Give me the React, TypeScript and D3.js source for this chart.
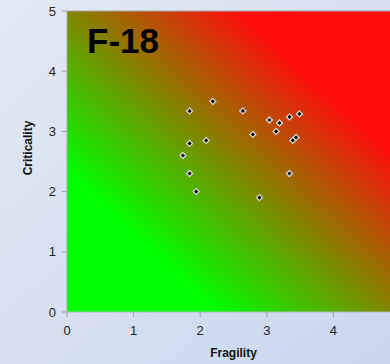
import React from 'react'
import { scaleLinear, symbol, symbolSquare } from 'd3'

const fragility = [2.19, 1.84, 2.64, 3.04, 3.19, 3.34, 3.49, 2.79, 3.14, 2.09, 1.84, 1.74, 3.39, 3.44, 1.84, 3.34, 1.94, 2.89]
const criticality = [3.5, 3.34, 3.34, 3.19, 3.14, 3.24, 3.29, 2.95, 3.0, 2.85, 2.8, 2.6, 2.85, 2.9, 2.3, 2.3, 2.0, 1.9]
const xTicks = [0, 1, 2, 3, 4]
const yTicks = [0, 1, 2, 3, 4, 5]

const W = 390
const H = 364

const App = () => {
  const x = scaleLinear().domain([0, 5]).range([67, 400])
  const y = scaleLinear().domain([0, 5]).range([312, 11])

  const left = x(0), right = x(5), top = y(5), bottom = y(0)
  const cx = (left + 390) / 2
  const cy = (top + bottom) / 2
  // gradient runs across the anti-diagonal, green bottom-left to red top-right
  const nx = 0.682, ny = -0.732, half = 118

  const marker = symbol().type(symbolSquare).size(18)()
  const font = 'Liberation Sans, Arial, sans-serif'

  return (
    <svg width={W} height={H} style={{ position: 'absolute', left: 0, top: 0 }}>
      <defs>
        <linearGradient id="bg" x1="0" y1="0" x2="1" y2="1">
          <stop offset="0" stopColor="#e3e9f4" />
          <stop offset="1" stopColor="#c9d7ee" />
        </linearGradient>
        <linearGradient id="heat" gradientUnits="userSpaceOnUse"
          x1={cx - nx * half} y1={cy - ny * half} x2={cx + nx * half} y2={cy + ny * half}>
          <stop offset="0" stopColor="#00ff00" />
          <stop offset="0.5" stopColor="#808600" />
          <stop offset="1" stopColor="#ff0c0c" />
        </linearGradient>
      </defs>
      <rect width={W} height={H} fill="url(#bg)" />
      <rect x={left} y={top} width={right - left} height={bottom - top} fill="url(#heat)" />
      <line x1={left} x2={right} y1={top} y2={top} stroke="#a8a8a8" />
      <line x1={left} x2={left} y1={top} y2={bottom} stroke="#a8a8a8" />
      <line x1={left} x2={right} y1={bottom} y2={bottom} stroke="#b8b8b8" />

      {yTicks.map(t => (
        <g key={'y' + t}>
          <line x1={left - 5} x2={left} y1={y(t)} y2={y(t)} stroke="#a0a0a0" />
          <text x={left - 11} y={y(t)} dy="0.35em" textAnchor="end" fontFamily={font} fontSize={13} fill="#222">{t}</text>
        </g>
      ))}
      {xTicks.map(t => (
        <g key={'x' + t}>
          <line x1={x(t)} x2={x(t)} y1={bottom} y2={bottom + 5} stroke="#a0a0a0" />
          <text x={x(t)} y={bottom + 18} dy="0.35em" textAnchor="middle" fontFamily={font} fontSize={13} fill="#222">{t}</text>
        </g>
      ))}

      {fragility.map((f, i) => (
        <path key={i} d={marker} transform={`translate(${x(f)},${y(criticality[i])}) rotate(45)`}
          fill="#000" stroke="#d8d8d8" strokeWidth={1.3} />
      ))}

      <text x={87} y={53} fontFamily={font} fontSize={35} fontWeight="bold" fill="#000">F-18</text>
      <text x={(left + right) / 2} y={357} textAnchor="middle" fontFamily={font} fontSize={12} fontWeight="bold" fill="#111">Fragility</text>
      <text transform="translate(32,148) rotate(-90)" textAnchor="middle" fontFamily={font} fontSize={12} fontWeight="bold" fill="#111">Criticality</text>
    </svg>
  )
}

export default App
